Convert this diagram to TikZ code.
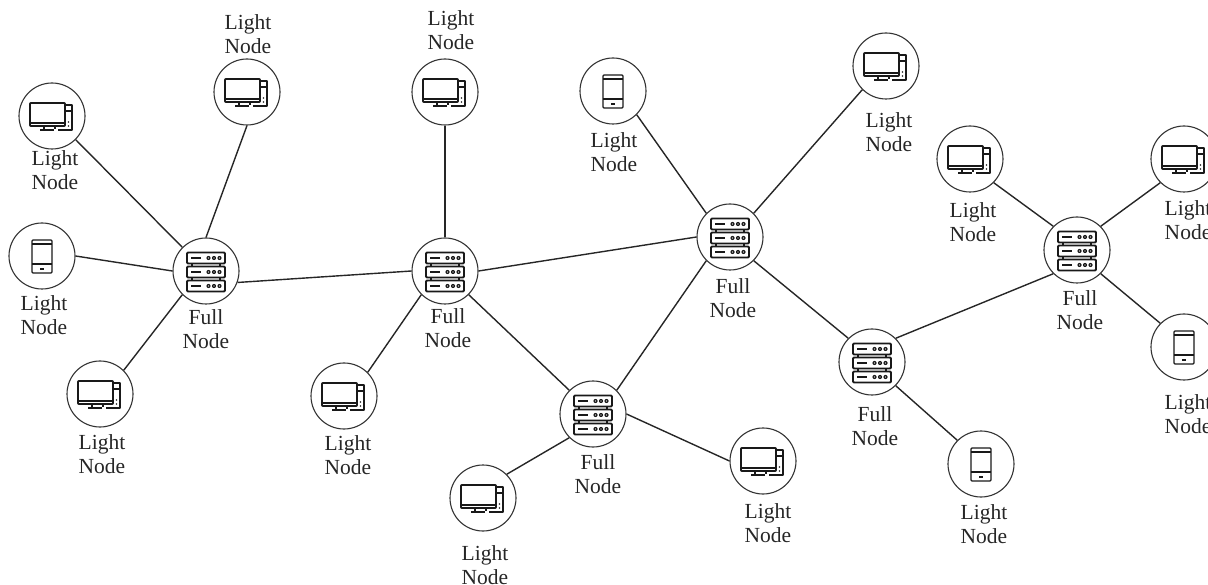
\documentclass[tikz,border=0pt]{standalone}
\usepackage{fontspec}
\setmainfont{Liberation Serif}
\usetikzlibrary{positioning}

\begin{document}
\begin{tikzpicture}[
    x=1pt, y=-1pt,
    peer/.style={circle, draw=black!80, line width=1.1pt, minimum size=66pt, inner sep=0pt},
    tag/.style={align=center, inner sep=0pt, text=black!85, font=\fontsize{21.5}{24}\selectfont},
    edge/.style={line width=1.4pt, black!85},
    icon/.style={line width=1.9pt, black!90, line join=round},
    desktop/.pic={
        \draw[icon, rounded corners=0.8pt] (-22,-13) rectangle (13,10);
        \draw[icon, line width=1.4pt] (-22,7) -- (13,7);
        \draw[icon, line width=1.4pt] (-8,10) -- (-8,13) (3,10) -- (3,13);
        \draw[icon] (-12,14) -- (2,14);
        \draw[icon, line width=1.4pt] (13,-11) -- (20,-11) -- (20,14) -- (6,14) (13,-5) -- (19,-5);
        \fill[black!85] (16.5,6) circle (0.9) (16.5,10) circle (0.9);
    },
    phone/.pic={
        \draw[icon, line width=1.3pt, rounded corners=1pt] (-10,-16) rectangle (10,17);
        \draw[icon, line width=1.3pt] (-10,-12) -- (10,-12) (-10,8) -- (10,8);
        \draw[icon] (-2,13) -- (2,13);
    },
    rack/.pic={
        \foreach \rowy in {-13,1,15} {
            \draw[icon, rounded corners=1pt] (-19,\rowy-5.5) rectangle (19,\rowy+5.5);
            \draw[icon] (-15,\rowy) -- (-5,\rowy);
            \foreach \doty in {2.5,8,13.5} {
                \fill[black!90] (\doty,\rowy) circle (2.1);
                \fill[white] (\doty,\rowy) circle (0.6);
            }
        }
        \draw[icon, line width=1.4pt] (-14,-7.5) -- (-14,-4.5) (14,-7.5) -- (14,-4.5) (-14,6.5) -- (-14,9.5) (14,6.5) -- (14,9.5);
    }
]
\useasboundingbox (0,0) rectangle (1208,585);

% Full nodes
\node[peer] (full1) at (206,271) {};
\node[peer] (full2) at (445,271) {};
\node[peer] (full3) at (593,414) {};
\node[peer] (full4) at (730,237) {};
\node[peer] (full5) at (872,362) {};
\node[peer] (full6) at (1077,250) {};

% Light nodes
\node[peer] (light1) at (247,92) {};
\node[peer] (light2) at (445,92) {};
\node[peer] (light3) at (52,116) {};
\node[peer] (light4) at (42,256) {};
\node[peer] (light5) at (100,394) {};
\node[peer] (light6) at (344,396) {};
\node[peer] (light7) at (483,498) {};
\node[peer] (light8) at (763,461) {};
\node[peer] (light9) at (613,91) {};
\node[peer] (light10) at (886,66) {};
\node[peer] (light11) at (981,464) {};
\node[peer] (light12) at (970,159) {};
\node[peer] (light13) at (1184,159) {};
\node[peer] (light14) at (1184,347) {};

% Icons
\foreach \hub in {full1,full2,full3,full4,full5,full6} {
    \pic at (\hub) {rack};
}
\foreach \host in {light1,light2,light3,light5,light6,light7,light8,light10,light12,light13} {
    \pic at (\host) {desktop};
}
\foreach \host in {light4,light9,light11,light14} {
    \pic at (\host) {phone};
}

% Labels
\node[tag] (tagf1) at (206,329) {Full\\Node};
\node[tag] (tagf2) at (448,328) {Full\\Node};
\node[tag] (tagf3) at (598,474) {Full\\Node};
\node[tag] (tagf4) at (733,298) {Full\\Node};
\node[tag] (tagf5) at (875,426) {Full\\Node};
\node[tag] (tagf6) at (1080,310) {Full\\Node};
\node[tag] (tagl1) at (248,34) {Light\\Node};
\node[tag] (tagl2) at (451,30) {Light\\Node};
\node[tag] (tagl3) at (55,170) {Light\\Node};
\node[tag] (tagl4) at (44,315) {Light\\Node};
\node[tag] (tagl5) at (102,454) {Light\\Node};
\node[tag] (tagl6) at (348,455) {Light\\Node};
\node[tag] (tagl7) at (485,565) {Light\\Node};
\node[tag] (tagl8) at (768,523) {Light\\Node};
\node[tag] (tagl9) at (614,152) {Light\\Node};
\node[tag] (tagl10) at (889,132) {Light\\Node};
\node[tag] (tagl11) at (984,524) {Light\\Node};
\node[tag] (tagl12) at (973,222) {Light\\Node};
\node[tag] (tagl13) at (1188,220) {Light\\Node};
\node[tag] (tagl14) at (1188,414) {Light\\Node};

% Backbone
\draw[edge] (full1.-20) -- (full2.180);
\draw[edge] (full2.0) -- (full4.180);
\draw[edge] (full2.-45) -- (full3.135);
\draw[edge] (full3.45) -- (full4.225);
\draw[edge] (full4.-45) -- (full5.135);
\draw[edge] (full5.45) -- (full6.225);

% Leaves
\draw[edge] (full1.90) -- (light1.270);
\draw[edge] (full1.135) -- (light3.-45);
\draw[edge] (full1.180) -- (light4.0);
\draw[edge] (full1.225) -- (light5.45);
\draw[edge] (full2.90) -- (light2.270);
\draw[edge] (full2.225) -- (light6.45);
\draw[edge] (full3.225) -- (light7.45);
\draw[edge] (full3.0) -- (light8.180);
\draw[edge] (full4.135) -- (light9.-45);
\draw[edge] (full4.45) -- (light10.225);
\draw[edge] (full5.-45) -- (light11.135);
\draw[edge] (full6.135) -- (light12.-45);
\draw[edge] (full6.45) -- (light13.225);
\draw[edge] (full6.-45) -- (light14.135);

\end{tikzpicture}
\end{document}
